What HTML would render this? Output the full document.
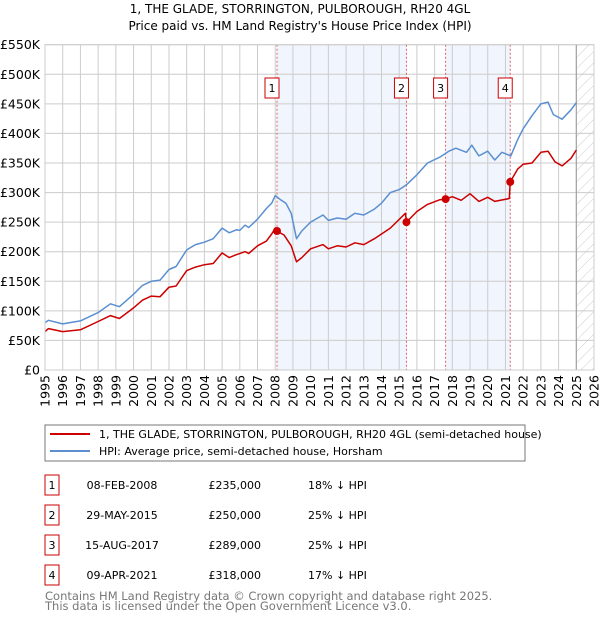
<!DOCTYPE html>
<html><head><meta charset="utf-8"><style>
body{margin:0;background:#fff;font-family:"Liberation Sans","DejaVu Sans",sans-serif;}
svg text{font-family:"DejaVu Sans","Liberation Sans",sans-serif;}
</style></head><body>
<svg id="c" width="600" height="620" xmlns="http://www.w3.org/2000/svg">
<text x="300" y="13" text-anchor="middle" font-size="12" fill="#000">1, THE GLADE, STORRINGTON, PULBOROUGH, RH20 4GL</text>
<text x="300" y="30" text-anchor="middle" font-size="12" fill="#000">Price paid vs. HM Land Registry's House Price Index (HPI)</text>
<g id="plot"></g>
<rect x="45" y="425" width="480" height="36" fill="#fff" stroke="#777"/>
<line x1="50" y1="434" x2="90" y2="434" stroke="#cc0000" stroke-width="2"/>
<text x="99" y="438" font-size="11">1, THE GLADE, STORRINGTON, PULBOROUGH, RH20 4GL (semi-detached house)</text>
<line x1="50" y1="451" x2="90" y2="451" stroke="#5b8fd0" stroke-width="2"/>
<text x="99" y="455" font-size="11">HPI: Average price, semi-detached house, Horsham</text>
<g id="tbl" font-size="11"></g>
<text x="45" y="600" font-size="11.5" fill="#777">Contains HM Land Registry data © Crown copyright and database right 2025.</text>
<text x="45" y="610" font-size="11.5" fill="#777">This data is licensed under the Open Government Licence v3.0.</text>
</svg>
<script>
const hpiYears=[1995,1995.2,1996,1997,1998,1998.7,1999.2,2000,2000.5,2001,2001.5,2002,2002.4,2003,2003.5,2004,2004.5,2005,2005.4,2005.8,2006,2006.3,2006.5,2007,2007.5,2007.8,2008.0,2008.3,2008.6,2008.9,2009.2,2009.5,2010,2010.7,2011,2011.5,2012,2012.5,2013,2013.6,2014,2014.5,2015,2015.4,2016,2016.6,2017.3,2017.8,2018.2,2018.8,2019.1,2019.5,2020,2020.4,2020.8,2021.3,2021.7,2022,2022.5,2023,2023.4,2023.7,2024.2,2024.7,2025.0];
const hpiValues=[80,84,78,83,97,112,107,128,143,150,152,170,175,203,212,216,222,240,232,237,236,245,241,255,273,282,295,288,282,265,222,235,250,262,253,257,255,265,262,272,282,300,305,313,330,350,360,370,375,368,380,362,370,355,368,362,390,408,430,450,453,432,424,440,452];
const priceYears=[1995,1995.2,1996,1997,1998,1998.7,1999.2,2000,2000.5,2001,2001.5,2002,2002.4,2003,2003.5,2004,2004.5,2005,2005.4,2005.8,2006.3,2006.5,2007,2007.5,2007.8,2008.0,2008.1,2008.5,2008.9,2009.2,2009.5,2010,2010.7,2011,2011.5,2012,2012.5,2013,2013.6,2014,2014.5,2015.35,2015.41,2016,2016.6,2017.3,2017.62,2018,2018.5,2019,2019.5,2020,2020.4,2021.22,2021.27,2021.7,2022,2022.5,2023,2023.4,2023.8,2024.2,2024.7,2025];
const priceValues=[65,70,65,68,82,92,87,105,118,125,124,140,142,168,174,178,180,198,190,195,200,197,210,218,230,240,235,228,210,183,190,205,212,205,210,208,215,212,222,230,240,265,250,268,280,288,289,293,287,298,285,292,285,290,318,340,348,350,368,370,352,345,358,372];
const saleLabels=["1","2","3","4"];
const saleYears=[2008.1,2015.41,2017.62,2021.27];
const saleValues=[235,250,289,318];
const saleDates=["08-FEB-2008","29-MAY-2015","15-AUG-2017","09-APR-2021"];
const salePrices=["£235,000","£250,000","£289,000","£318,000"];
const saleDiffs=["18% ↓ HPI","25% ↓ HPI","25% ↓ HPI","17% ↓ HPI"];
const yTicks=[0,50,100,150,200,250,300,350,400,450,500,550];
const yTickLabels=["£0","£50K","£100K","£150K","£200K","£250K","£300K","£350K","£400K","£450K","£500K","£550K"];
const xTicks=[1995,1996,1997,1998,1999,2000,2001,2002,2003,2004,2005,2006,2007,2008,2009,2010,2011,2012,2013,2014,2015,2016,2017,2018,2019,2020,2021,2022,2023,2024,2025,2026];

const X0=45,X1=594,Y0=370,Y1=44.7;
const xs=y=>X0+(y-1995)/(2026-1995)*(X1-X0);
const ys=v=>Y0-v/550*(Y0-Y1);
const NS="http://www.w3.org/2000/svg";
const plot=document.getElementById('plot');
function mk(tag,attrs,parent){const e=document.createElementNS(NS,tag);for(const k in attrs)e.setAttribute(k,attrs[k]);(parent||plot).appendChild(e);return e;}

let e;
e=mk('rect',{x:X0,y:Y1,width:X1-X0,height:Y0-Y1,fill:'#fff'});


// shaded spans
[[0,1],[2,3]].forEach((p,i)=>{
 e=mk('rect',{x:xs(saleYears[p[0]]),y:Y1,width:xs(saleYears[p[1]])-xs(saleYears[p[0]]),height:Y0-Y1,fill:'#eef2fc',opacity:0.8});
 
 
});
// hatch
const defs=mk('defs',{});
const pat=mk('pattern',{id:'h',width:8,height:8,patternUnits:'userSpaceOnUse',patternTransform:'rotate(45)'},defs);
mk('line',{x1:0,y1:0,x2:0,y2:8,stroke:'#ccc','stroke-width':1},pat);
e=mk('rect',{x:xs(2025.0),y:Y1,width:X1-xs(2025.0),height:Y0-Y1,fill:'url(#h)'});


// grid
yTicks.forEach((t,i)=>{
 e=mk('line',{x1:X0,x2:X1,y1:ys(t),y2:ys(t),stroke:'#ccc','stroke-width':1});
 
 
 e=mk('text',{x:40,y:ys(t)+4.5,'text-anchor':'end','font-size':12.5});
 e.textContent=yTickLabels[i];
 
 
});
xTicks.forEach(t=>{
 e=mk('line',{x1:xs(t),x2:xs(t),y1:Y1,y2:Y0,stroke:'#ccc','stroke-width':1});
 
 
 e=mk('text',{x:0,y:0,'font-size':12.5,'text-anchor':'end',transform:`translate(${xs(t)+4.5},${Y0+5}) rotate(-90)`});
 e.textContent=t;
 
 
});
e=mk('line',{x1:xs(2025.0),x2:xs(2025.0),y1:Y1,y2:Y0,stroke:'#999','stroke-width':1});


// sale vlines
saleYears.forEach((y,i)=>{
 e=mk('line',{x1:xs(y),x2:xs(y),y1:Y1,y2:Y0,stroke:'#e06060','stroke-width':1,'stroke-dasharray':'2,2'});
 
 
});
// lines
function path(xa,va,col,name){
 const d=xa.map((x,i)=>(i?'L':'M')+xs(x).toFixed(1)+','+ys(va[i]).toFixed(1)).join('');
 e=mk('path',{d:d,fill:'none',stroke:col,'stroke-width':1.5,'stroke-linejoin':'round'});
 
 
}
path(hpiYears,hpiValues,'#5b8fd0','hpi-line');
path(priceYears,priceValues,'#cc0000','price-line');
saleYears.forEach((y,i)=>{
 e=mk('circle',{cx:xs(y),cy:ys(saleValues[i]),r:4,fill:'#cc0000'});
 
 
 const g=mk('g',{});
 
 
 mk('rect',{x:xs(y)-12,y:78,width:14,height:20,fill:'#fff',stroke:'#cc0000'},g);
 const t=mk('text',{x:xs(y)-5,y:92,'text-anchor':'middle','font-size':11},g);
 t.textContent=saleLabels[i];
});
e=mk('rect',{x:X0,y:Y1,width:X1-X0,height:Y0-Y1,fill:'none',stroke:'#ccc'});


// table
const tbl=document.getElementById('tbl');
saleLabels.forEach((l,i)=>{
 const ty=475+i*30;
 e=mk('rect',{x:45,y:ty,width:14,height:20,fill:'#fff',stroke:'#cc0000'},tbl);
 
 
 const cells=[[52,l,'middle'],[122,saleDates[i],'middle'],[261,salePrices[i],'end'],[308,saleDiffs[i],'start']];
 cells.forEach((c,j)=>{
  e=mk('text',{x:c[0],y:ty+14,'text-anchor':c[2]},tbl);
  e.textContent=c[1];
  
  
 });
});
</script>
</body></html>
